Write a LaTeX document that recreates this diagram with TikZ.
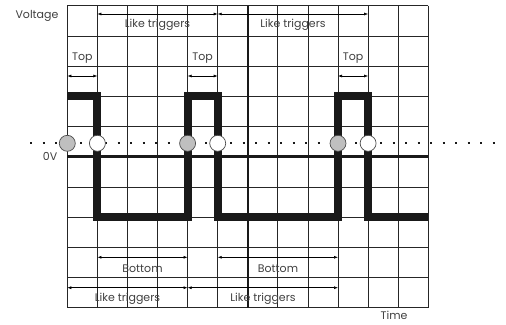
\documentclass[tikz,border=0pt]{standalone}
\usepackage{fontspec}
\setmainfont{Poppins}
\usetikzlibrary{arrows.meta}
\begin{document}
\begin{tikzpicture}[x=1pt,y=-1pt,
 gridline/.style={line width=0.8pt, draw=black!85},
 mainline/.style={line width=2pt, draw=black!90},
 zeroline/.style={line width=2.8pt, draw=black!90},
 wave/.style={line width=8pt, line join=miter, draw=black!90},
 dim/.style={line width=0.6pt, {Latex[length=4pt,width=3pt]}-{Latex[length=4pt,width=3pt]}},
 lbl/.style={font=\fontsize{11}{12}\selectfont, text=black!75, inner sep=0pt},
 trig/.style={line width=2.3pt, dash pattern=on 2.3pt off 10.2pt, draw=black!90},
 cross/.style={circle, minimum size=16pt, inner sep=0pt, draw=black!70, line width=0.7pt},
 rise/.style={cross, fill=gray!50},
 fall/.style={cross, fill=white}
]
\useasboundingbox (0,0) rectangle (506,324);
% grid
\foreach \i in {0,...,12} \draw[gridline] (67.3+30.08*\i,5.7) -- (67.3+30.08*\i,307.7);
\foreach \j in {0,...,10} \draw[gridline] (67.3,5.7+30.2*\j) -- (428.3,5.7+30.2*\j);
\draw[mainline] (247.8,5.7) -- (247.8,307.7);
\draw[zeroline] (67.3,156.7) -- (428.3,156.7);
% trigger level
\coordinate (tl0) at (30,143.3);
\coordinate (tl1) at (496,143.3);
\draw[trig] (tl0) -- (tl1);
% waveform
\coordinate (w0) at (67.3,96.3);
\coordinate (w1) at (97.4,96.3);
\coordinate (w2) at (97.4,217.1);
\coordinate (w3) at (187.6,217.1);
\coordinate (w4) at (187.6,96.3);
\coordinate (w5) at (217.7,96.3);
\coordinate (w6) at (217.7,217.1);
\coordinate (w7) at (338.0,217.1);
\coordinate (w8) at (338.0,96.3);
\coordinate (w9) at (368.1,96.3);
\coordinate (w10) at (368.1,217.1);
\coordinate (w11) at (428.3,217.1);
\draw[wave] (w0) -- (w1) -- (w2) -- (w3) -- (w4) -- (w5) -- (w6) -- (w7) -- (w8) -- (w9) -- (w10) -- (w11);
% crossing markers
\node[rise] (r1) at (67.3,143.3) {};
\node[fall] (f1) at (97.4,143.3) {};
\node[rise] (r2) at (187.6,143.3) {};
\node[fall] (f2) at (217.7,143.3) {};
\node[rise] (r3) at (338.0,143.3) {};
\node[fall] (f3) at (368.1,143.3) {};
% axis labels
\node[lbl] (volt) at (37,16) {Voltage};
\node[lbl, anchor=east] (zero) at (57.5,156) {0V};
\node[lbl] (time) at (394,315.5) {Time};
% top dimension arrows
\coordinate (ta0) at (97.4,14);
\coordinate (ta1) at (217.7,14);
\coordinate (ta2) at (368.1,14);
\draw[dim] (ta0) -- (ta1);
\draw[dim] (ta1) -- (ta2);
\node[lbl] (lt1) at (157.5,25) {Like triggers};
\node[lbl] (lt2) at (293,25) {Like triggers};
\coordinate (tp0) at (67.3,76);
\coordinate (tp1) at (97.4,76);
\coordinate (tp2) at (187.6,76);
\coordinate (tp3) at (217.7,76);
\coordinate (tp4) at (338.0,76);
\coordinate (tp5) at (368.1,76);
\draw[dim] (tp0) -- (tp1);
\draw[dim] (tp2) -- (tp3);
\draw[dim] (tp4) -- (tp5);
\node[lbl] (top1) at (82.3,58) {Top};
\node[lbl] (top2) at (202.7,58) {Top};
\node[lbl] (top3) at (353.1,58) {Top};
% bottom dimension arrows
\coordinate (bt0) at (97.4,257.3);
\coordinate (bt1) at (187.6,257.3);
\coordinate (bt2) at (217.7,257.3);
\coordinate (bt3) at (338.0,257.3);
\draw[dim] (bt0) -- (bt1);
\draw[dim] (bt2) -- (bt3);
\node[lbl] (bot1) at (142.5,269) {Bottom};
\node[lbl] (bot2) at (278,269) {Bottom};
\coordinate (bl0) at (67.3,287.7);
\coordinate (bl1) at (187.6,287.7);
\coordinate (bl2) at (338.0,287.7);
\draw[dim] (bl0) -- (bl1);
\draw[dim] (bl1) -- (bl2);
\node[lbl] (lb1) at (127.5,299) {Like triggers};
\node[lbl] (lb2) at (263,299) {Like triggers};
\end{tikzpicture}
\end{document}
